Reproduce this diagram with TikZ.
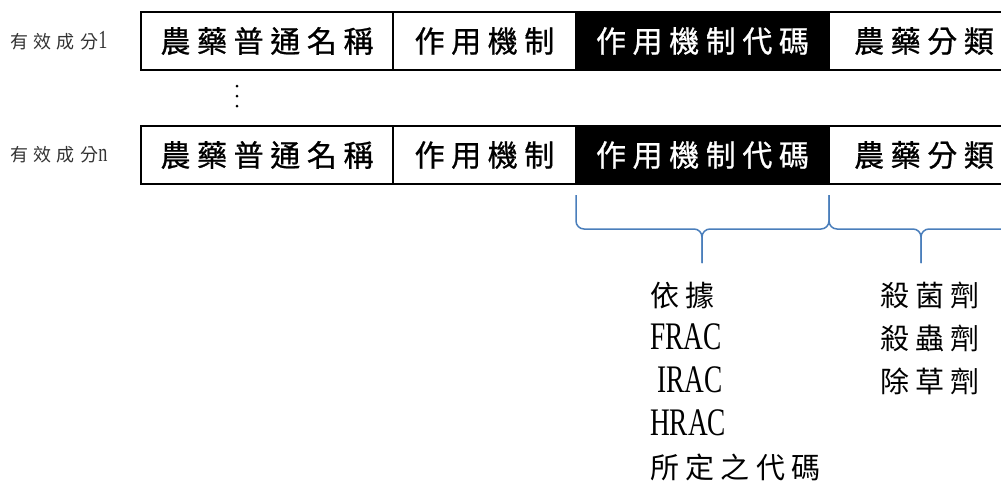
\documentclass[tikz,border=0pt]{standalone}
\usepackage{fontspec}
\setmainfont{Liberation Serif}
\newfontfamily\cjk[LetterSpace=22]{Noto Sans CJK TC}
\newfontfamily\cjkbox[LetterSpace=22,FakeBold=0.8]{Noto Sans CJK TC}
\newfontfamily\cjktag[LetterSpace=30]{Noto Sans CJK TC}
\newfontfamily\narrow[FakeStretch=0.7]{Liberation Serif}
\usetikzlibrary{positioning}
\definecolor{braceblue}{HTML}{4A7EBB}

\begin{document}
\begin{tikzpicture}[x=1pt,y=-1pt,
		cell/.style={draw,line width=1.5pt,minimum height=58pt,inner sep=0pt,outer sep=0pt,font=\cjkbox\fontsize{30}{32}\selectfont},
		code/.style={cell,fill=black,text=white},
		tag/.style={anchor=west,inner sep=0pt,text=black!80,font=\cjktag\fontsize{18}{20}\selectfont},
		list/.style={anchor=north west,align=left,inner sep=0pt,font=\cjk\fontsize{29}{43}\selectfont},
		brace/.style={draw=braceblue,line width=1.5pt,rounded corners=8pt}]
	\clip (0,0) rectangle (1001,485);
	
	\foreach \r/\y/\k in {1/41/1,2/155/n}{
		\node[tag] (tag\r) at (10,\y) {有效成分{\narrow\fontsize{26}{26}\selectfont\k}};
		\node[cell,minimum width=252pt] (name\r) at (267,\y) {農藥普通名稱};
		\node[cell,minimum width=183pt,right=0pt of name\r] (mech\r) {作用機制};
		\node[code,minimum width=253pt,right=0pt of mech\r] (code\r) {作用機制代碼};
		\node[cell,minimum width=190pt,right=0pt of code\r] (cls\r) {農藥分類};
	}
	\foreach \d in {86,96,106}
	\fill (237,\d) circle (1.5pt);
	
	% braces under the last two cells
	\coordinate (bl) at ([yshift=-11pt]code2.south west);
	\coordinate (bm) at ([yshift=-11pt]code2.south east);
	\coordinate (br) at ([xshift=184pt]bm);
	\coordinate (tipa) at (702,263);
	\coordinate (tipb) at (921,263);
	\draw[brace] (bl) |- ([yshift=34pt]tipa) -- (tipa);
	\draw[brace] (bm) |- ([yshift=34pt]tipa) -- (tipa);
	\draw[brace] (bm) |- ([yshift=34pt]tipb) -- (tipb);
	\draw[brace] (br) |- ([yshift=34pt]tipb) -- (tipb);
	
	\node[list] (codes) at (650,282) {依據\\{\narrow\fontsize{39}{43}\selectfont FRAC}\\{\narrow\fontsize{39}{43}\selectfont\ IRAC}\\{\narrow\fontsize{39}{43}\selectfont HRAC}\\所定之代碼};
	\node[list] (kinds) at (880,282) {殺菌劑\\殺蟲劑\\除草劑};
\end{tikzpicture}
\end{document}
